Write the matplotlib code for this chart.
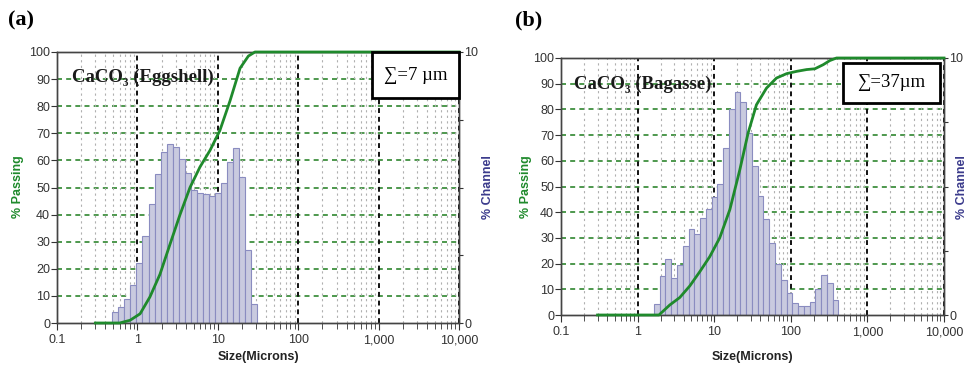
import numpy as np
import matplotlib
matplotlib.use('Agg')
import matplotlib.pyplot as plt
from matplotlib.patches import Rectangle

# Microtrac channel edges (microns) and % channel per bin
edges_a = [0.486, 0.578, 0.688, 0.818, 0.972, 1.156, 1.375, 1.635, 1.944, 2.312,
           2.750, 3.270, 3.889, 4.625, 5.500, 6.541, 7.778, 9.250, 11.00, 13.08,
           15.56, 18.50, 22.00, 26.16, 31.11]
channel_a = [0.4, 0.6, 0.9, 1.4, 2.2, 3.2, 4.4, 5.5, 6.3, 6.6, 6.5, 6.05, 5.55,
             4.9, 4.8, 4.75, 4.7, 4.8, 5.15, 5.95, 6.45, 5.4, 2.7, 0.7]

edges_b = [1.635, 1.944, 2.312, 2.750, 3.270, 3.889, 4.625, 5.500, 6.541, 7.778,
           9.250, 11.00, 13.08, 15.56, 18.50, 22.00, 26.16, 31.11, 37.00, 44.00,
           52.33, 62.23, 74.00, 88.00, 104.7, 124.5, 148.0, 176.0, 209.3, 248.9,
           296.0, 352.0, 418.6]
channel_b = [0.43, 1.52, 2.17, 1.43, 1.95, 2.69, 3.34, 3.14, 3.77, 4.12, 4.61,
             5.09, 6.5, 8.0, 8.66, 8.27, 7.1, 5.78, 4.64, 3.73, 2.79, 1.97, 1.36,
             0.87, 0.45, 0.35, 0.35, 0.5, 1.0, 1.56, 1.26, 0.58]

# cumulative % passing
size_a = [0.3, 0.6, 0.81, 1.08, 1.43, 1.91, 2.54, 3.39, 4.51, 6.01, 8.0, 10.6,
          14.2, 18.9, 24, 29, 10000]
pass_a = [0, 0, 1, 3.4, 9.6, 18, 29, 40, 50, 57.6, 63.7, 71, 82, 94, 98.5, 100, 100]

size_b = [0.3, 1.9, 2.63, 3.55, 4.8, 6.5, 8.75, 11.8, 16, 21.6, 27.7, 35.6, 48.2,
          65, 88, 119, 161, 206, 265, 323, 395, 10000]
pass_b = [0, 0, 3.9, 6.8, 11.3, 16.9, 22.7, 30, 41, 56.5, 70.8, 81.8, 88.3, 92.2,
          93.9, 94.8, 95.5, 95.8, 97.4, 99, 100, 100]

xticks = [0.1, 1, 10, 100, 1000, 10000]
xlabels = ['0.1', '1', '10', '100', '1,000', '10,000']

plt.rcParams['font.family'] = ['Liberation Sans', 'DejaVu Sans']
green = '#1f8a2c'
blue = '#3b3b8c'
serif = ['Liberation Serif', 'DejaVu Serif']

fig = plt.figure(figsize=(9.71, 3.72), dpi=100)
W, H = 971.0, 372.0


def panel(px, edges, chan, sz, ps, sample, sigma, box, txt_xy):
    l, r, t, b = px
    ax = fig.add_axes([l / W, 1 - b / H, (r - l) / W, (b - t) / H])
    ax.set_xscale('log')
    ax.set_xlim(0.1, 10000)
    ax.set_ylim(0, 10)
    # grid
    ax.set_axisbelow(True)
    ax.xaxis.grid(True, which='major', color='#111111', ls=(0, (2.5, 2)), lw=1.4)
    ax.xaxis.grid(True, which='minor', color='#b0b0b0', ls=(0, (2, 3)), lw=0.8)
    for v in range(1, 10):
        ax.axhline(v, color='#2f862f', ls=(0, (3, 2.5)), lw=1.2, zorder=0.5)
    # bars (% channel)
    e = np.array(edges)
    ax.bar(e[:-1], chan, width=np.diff(e), align='edge', color='#c9cadf',
           edgecolor='#8a8cc0', lw=0.8, zorder=2)
    ax.set_xticks(xticks)
    ax.set_xticklabels(xlabels)
    ax.tick_params(axis='x', which='major', length=5, pad=3, labelsize=9,
                   colors='#333333')
    ax.tick_params(axis='x', which='minor', length=4, colors='#333333')
    ax.xaxis.set_minor_formatter(plt.NullFormatter())

    # % passing line
    ax2 = ax.twinx()
    ax2.set_ylim(0, 100)
    ax2.yaxis.tick_left()
    ax2.set_yticks(range(0, 101, 10))
    ax2.tick_params(axis='y', length=4, pad=1, labelsize=9, colors='#333333')
    ax2.plot(sz, ps, color=green, lw=2, clip_on=False, zorder=3)

    # right axis: % channel
    ax.yaxis.tick_right()
    ax.set_yticks([0, 2.5, 5, 7.5, 10])
    ax.set_yticklabels(['0', '', '', '', '10'])
    ax.tick_params(axis='y', length=3, pad=1, labelsize=9, colors='#333333')

    for a in (ax, ax2):
        for s in a.spines.values():
            s.set_color('#444444')
            s.set_linewidth(1.0)

    ax2.text(txt_xy[0], txt_xy[1], sample, transform=ax2.transAxes,
             family=serif, fontweight='bold', fontsize=13.5, color='#1a1a1a',
             va='center', ha='left')
    bx0, by0, bx1, by1 = box
    ax2.add_patch(Rectangle((bx0, by0), bx1 - bx0, by1 - by0,
                            transform=ax2.transAxes, facecolor='white',
                            edgecolor='black', lw=2.0, clip_on=False, zorder=5))
    ax2.text((bx0 + bx1) / 2, (by0 + by1) / 2, sigma, transform=ax2.transAxes,
             family=serif, fontsize=13.5, ha='center', va='center', zorder=6)

    fig.text(((l + r) / 2) / W, 1 - 357 / H, 'Size(Microns)', ha='center',
             va='center', fontsize=9, fontweight='bold', color='#222222')
    return ax


panel((57, 459, 52, 323), edges_a, channel_a, size_a, pass_a,
      'CaCO\u2083 (Eggshell)', '\u2211=7 \u00b5m',
      (0.784, 0.83, 1.0, 1.0), (0.037, 0.908))
panel((561, 944, 58, 315), edges_b, channel_b, size_b, pass_b,
      'CaCO\u2083 (Bagasse)', '\u2211=37\u00b5m',
      (0.736, 0.825, 0.99, 0.981), (0.034, 0.899))

for x, y, s, c in [(18, 187, '% Passing', green), (488, 187, '% Channel', blue),
                   (526, 187, '% Passing', green), (962, 187, '% Channel', blue)]:
    fig.text(x / W, 1 - y / H, s, rotation=90, ha='center', va='center',
             fontsize=9, fontweight='bold', color=c)

fig.text(8 / W, 1 - 20 / H, '(a)', family=serif, fontweight='bold', fontsize=16,
         ha='left', va='center')
fig.text(515 / W, 1 - 20 / H, '(b)', family=serif, fontweight='bold', fontsize=16,
         ha='left', va='center')

fig.savefig('out.png', dpi=100)
